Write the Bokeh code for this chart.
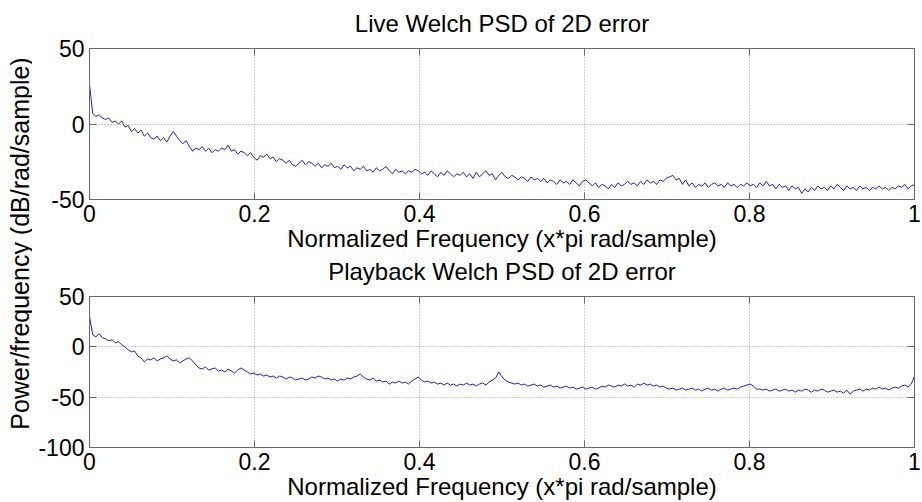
import math
import numpy as np
from bokeh.plotting import figure
from bokeh.layouts import row, column
from bokeh.models import (Range1d, FixedTicker, LinearAxis, Label,
                          CustomJSTickFormatter, ColumnDataSource)
from bokeh.embed import file_html
from bokeh.resources import INLINE

# ---------------- data ----------------
title_top = "Live Welch PSD of 2D error"
title_bottom = "Playback Welch PSD of 2D error"
x_label = "Normalized Frequency (x*pi rad/sample)"
y_label = "Power/frequency (dB/rad/sample)"

x_ticks = [0, 0.2, 0.4, 0.6, 0.8, 1]
x_tick_labels = ["0", "0.2", "0.4", "0.6", "0.8", "1"]
y_ticks_top = [-50, 0, 50]
y_tick_labels_top = ["-50", "0", "50"]
y_ticks_bottom = [-100, -50, 0, 50]
y_tick_labels_bottom = ["-100", "-50", "0", "50"]
y_range_top = (-50, 50)
y_range_bottom = (-100, 50)

live_psd = [
    26, 7, 5, 6, 4, 3, 4, 1, 2, 0, 2, -2, -1, -5, -3, -6,
    -4, -8, -6, -9, -10, -8, -11, -9, -12, -8, -5, -8, -11, -13, -11, -15,
    -18, -16, -17, -15, -18, -16, -19, -17, -18, -16, -17, -14, -18, -17, -20, -18,
    -19, -21, -19, -22, -24, -21, -22, -20, -23, -22, -25, -23, -24, -26, -24, -27,
    -28, -26, -24, -27, -25, -26, -28, -26, -29, -27, -28, -26, -29, -28, -30, -27,
    -29, -28, -31, -29, -30, -28, -31, -30, -32, -29, -31, -30, -28, -31, -33, -30,
    -32, -31, -33, -31, -32, -30, -31, -33, -32, -34, -31, -33, -35, -32, -34, -31,
    -33, -35, -33, -34, -32, -35, -33, -36, -32, -35, -33, -31, -34, -33, -37, -34,
    -32, -35, -36, -34, -35, -37, -35, -36, -38, -35, -37, -36, -38, -36, -39, -37,
    -38, -40, -37, -39, -38, -40, -37, -39, -41, -38, -37, -39, -41, -39, -42, -40,
    -41, -43, -40, -42, -39, -41, -40, -38, -40, -39, -41, -38, -40, -37, -39, -38,
    -40, -37, -38, -36, -35, -34, -37, -36, -40, -37, -41, -39, -42, -40, -41, -39,
    -42, -40, -39, -41, -40, -42, -39, -41, -40, -42, -40, -41, -39, -41, -40, -42,
    -39, -41, -38, -41, -40, -43, -40, -42, -41, -44, -41, -43, -42, -46, -43, -45,
    -42, -44, -41, -43, -42, -44, -41, -43, -40, -42, -44, -41, -43, -42, -44, -41,
    -43, -42, -44, -42, -43, -41, -43, -42, -44, -42, -43, -41, -42, -40, -43, -41,
    -40,
]

playback_psd = [
    30, 12, 10, 13, 9, 8, 6, 7, 4, 5, 2, 0, -3, -5, -4, -9,
    -11, -15, -12, -13, -11, -14, -12, -11, -9, -12, -14, -13, -16, -14, -12, -11,
    -14, -18, -21, -22, -20, -23, -22, -21, -24, -23, -25, -22, -24, -26, -23, -21,
    -23, -25, -27, -26, -28, -27, -29, -28, -30, -29, -31, -29, -30, -32, -30, -31,
    -33, -32, -31, -33, -32, -30, -31, -29, -30, -32, -31, -33, -32, -34, -32, -33,
    -31, -32, -30, -29, -27, -30, -32, -33, -31, -34, -33, -35, -34, -37, -35, -36,
    -34, -36, -35, -37, -34, -32, -30, -33, -35, -34, -36, -35, -37, -36, -38, -36,
    -38, -37, -39, -37, -38, -36, -38, -37, -39, -37, -36, -38, -35, -33, -31, -25,
    -30, -33, -35, -36, -37, -36, -38, -37, -39, -38, -37, -39, -38, -40, -39, -38,
    -40, -39, -41, -40, -39, -41, -40, -42, -41, -40, -42, -41, -40, -42, -41, -39,
    -40, -38, -39, -40, -38, -39, -37, -39, -38, -40, -37, -38, -36, -38, -37, -39,
    -38, -40, -39, -41, -42, -41, -43, -42, -41, -43, -42, -41, -43, -42, -44, -42,
    -41, -43, -42, -44, -42, -41, -43, -42, -41, -42, -40, -39, -38, -37, -39, -42,
    -42, -43, -42, -44, -43, -42, -44, -43, -42, -44, -43, -45, -43, -44, -42, -43,
    -45, -43, -44, -42, -43, -45, -44, -43, -45, -44, -46, -43, -47, -44, -43, -42,
    -44, -42, -43, -41, -42, -40, -42, -41, -43, -41, -40, -41, -39, -38, -40, -37,
    -29,
]

# ---------------- style ----------------
FONT = "Liberation Sans"
FS_TEXT = "24px"
FS_TICK = "23px"
FS_YLAB = "25px"
BOX = "#6a6a6a"
GRID = "#a0a0a0"
LINE = "#2020b8"
W = 890
LEFT = 57
RIGHT = 8

blank = CustomJSTickFormatter(code="return '';")


def panel(values, yticks, ylabels, yrange, title, height, b_top, b_bottom):
    freq = np.linspace(0, 1, len(values))
    src = ColumnDataSource(dict(f=freq, p=values))
    p = figure(width=W, height=height, output_backend="svg", toolbar_location=None,
               title=None,
               x_range=Range1d(0, 1), y_range=Range1d(*yrange),
               min_border_left=LEFT, min_border_right=RIGHT,
               min_border_top=b_top, min_border_bottom=b_bottom,
               x_axis_label=x_label)
    p.line("f", "p", source=src, line_color=LINE, line_width=1)

    p.outline_line_color = BOX
    p.background_fill_color = "white"
    p.border_fill_color = "white"

    xt = FixedTicker(ticks=x_ticks)
    yt = FixedTicker(ticks=yticks)
    p.xaxis.ticker = xt
    p.yaxis.ticker = yt
    p.xaxis.major_label_overrides = {t: l for t, l in zip(x_ticks, x_tick_labels)}
    p.yaxis.major_label_overrides = {t: l for t, l in zip(yticks, ylabels)}
    p.xaxis.axis_label_standoff = 0

    right_ax = LinearAxis(ticker=yt, formatter=blank)
    # the panel title is carried by the top axis
    top_ax = LinearAxis(ticker=xt, formatter=blank, axis_label=title,
                        axis_label_standoff=12)
    p.add_layout(right_ax, "right")
    p.add_layout(top_ax, "above")

    for ax in p.axis:
        ax.axis_line_color = BOX
        ax.major_tick_line_color = BOX
        ax.major_tick_in = 7
        ax.major_tick_out = 0
        ax.minor_tick_line_color = None
        ax.major_label_text_font = FONT
        ax.major_label_text_font_size = FS_TICK
        ax.major_label_text_color = "black"
        ax.axis_label_text_font = FONT
        ax.axis_label_text_font_size = FS_TEXT
        ax.axis_label_text_font_style = "normal"
        ax.axis_label_text_color = "black"
    p.xaxis[0].major_label_standoff = 5
    p.yaxis[0].major_label_standoff = 5
    for ax in (right_ax, top_ax):
        ax.major_label_standoff = 0
        ax.major_label_text_font_size = "0px"

    p.xgrid.ticker = xt
    p.ygrid.ticker = yt
    for g in (p.xgrid, p.ygrid):
        g.grid_line_color = GRID
        g.grid_line_dash = "1 2"
        g.grid_line_width = 1
    return p


top = panel(live_psd, y_ticks_top, y_tick_labels_top, y_range_top, title_top, 254, 48, 55)
bottom = panel(playback_psd, y_ticks_bottom, y_tick_labels_bottom, y_range_bottom,
               title_bottom, 248, 42, 55)

lab = figure(width=32, height=502, output_backend="svg", toolbar_location=None,
             x_range=Range1d(0, 1), y_range=Range1d(0, 1),
             x_axis_location=None, y_axis_location=None, min_border=0)
lab.outline_line_color = None
lab.xgrid.visible = False
lab.ygrid.visible = False
lab.add_layout(Label(x=19, y=259, x_units="screen", y_units="screen", text=y_label,
                     angle=math.pi / 2, text_align="center", text_baseline="middle",
                     text_font=FONT, text_font_size=FS_YLAB, text_color="black"))

layout = row(lab, column(top, bottom, spacing=0), spacing=0)
open("out.html", "w").write(file_html(layout, INLINE))
